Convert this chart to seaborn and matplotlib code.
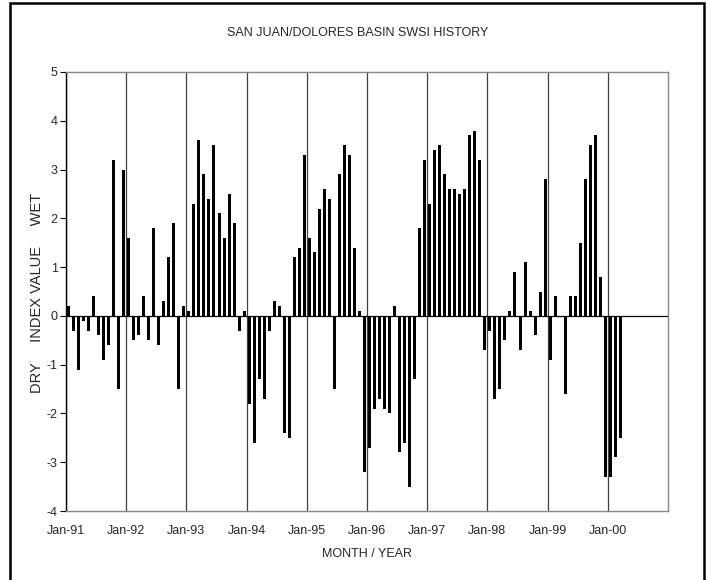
import numpy as np
import pandas as pd
import seaborn as sns
import matplotlib.pyplot as plt
from matplotlib.patches import Rectangle

# monthly SWSI values, Jan-91 .. Mar-00 (Mar-99 blank -> 0)
swsi = [
    0.2, -0.3, -1.1, -0.1, -0.3, 0.4, -0.4, -0.9, -0.6, 3.2, -1.5, 3.0,
    1.6, -0.5, -0.4, 0.4, -0.5, 1.8, -0.6, 0.3, 1.2, 1.9, -1.5, 0.2,
    0.1, 2.3, 3.6, 2.9, 2.4, 3.5, 2.1, 1.6, 2.5, 1.9, -0.3, 0.1,
    -1.8, -2.6, -1.3, -1.7, -0.3, 0.3, 0.2, -2.4, -2.5, 1.2, 1.4, 3.3,
    1.6, 1.3, 2.2, 2.6, 2.4, -1.5, 2.9, 3.5, 3.3, 1.4, 0.1, -3.2,
    -2.7, -1.9, -1.7, -1.9, -2.0, 0.2, -2.8, -2.6, -3.5, -1.3, 1.8, 3.2,
    2.3, 3.4, 3.5, 2.9, 2.6, 2.6, 2.5, 2.6, 3.7, 3.8, 3.2, -0.7,
    -0.3, -1.7, -1.5, -0.5, 0.1, 0.9, -0.7, 1.1, 0.1, -0.4, 0.5, 2.8,
    -0.9, 0.4, 0.0, -1.6, 0.4, 0.4, 1.5, 2.8, 3.5, 3.7, 0.8, -3.3,
    -3.3, -2.9, -2.5,
]
year_labels = ["Jan-91", "Jan-92", "Jan-93", "Jan-94", "Jan-95",
               "Jan-96", "Jan-97", "Jan-98", "Jan-99", "Jan-00"]
y_ticks = [-4, -3, -2, -1, 0, 1, 2, 3, 4, 5]

df = pd.DataFrame({"month": np.arange(len(swsi)) + 0.5, "swsi": swsi})

sns.set_theme(style="white")
plt.rcParams["font.family"] = ["Liberation Sans", "DejaVu Sans"]

fig = plt.figure(figsize=(7.11, 5.8), dpi=100)
ax = fig.add_axes([66 / 711, 69 / 580, 602 / 711, 439 / 580])

sns.barplot(data=df, x="month", y="swsi", native_scale=True, color="black",
            saturation=1, width=0.6, linewidth=0, errorbar=None, ax=ax, zorder=3)

ax.set_xlim(0, 120)
ax.set_ylim(-4, 5)
ax.set_xticks(np.arange(len(year_labels)) * 12)
ax.set_xticklabels(year_labels, fontsize=9)
ax.set_yticks(y_ticks)
ax.set_yticklabels([str(v) for v in y_ticks], fontsize=9)
ax.tick_params(axis="x", length=0, pad=10)
ax.tick_params(axis="y", length=4, width=0.8, color="black", direction="out", pad=2, left=True)

ax.xaxis.grid(True, color="#404040", linewidth=0.9)
ax.yaxis.grid(False)
ax.axhline(0, color="black", linewidth=0.9, zorder=4)

for side in ["top", "right", "bottom"]:
    ax.spines[side].set_color("#888888")
    ax.spines[side].set_linewidth(1.0)
ax.spines["left"].set_color("black")
ax.spines["left"].set_linewidth(1.0)

ax.set_xlabel("MONTH / YEAR", fontsize=9, labelpad=8)
ax.set_ylabel("")
fig.text(37 / 711, 1 - 293 / 580, "DRY     INDEX VALUE     WET",
         rotation=90, ha="center", va="center", fontsize=10.5)

fig.text(358 / 711, 1 - 33 / 580, "SAN JUAN/DOLORES BASIN SWSI HISTORY",
         ha="center", va="center", fontsize=9)

# outer chart frame
fig.patches.append(Rectangle((10 / 711, -0.02), 694 / 711, 0.02 + 577 / 580,
                             transform=fig.transFigure, fill=False,
                             edgecolor="black", linewidth=1.8))

fig.savefig("out.png", dpi=100)
